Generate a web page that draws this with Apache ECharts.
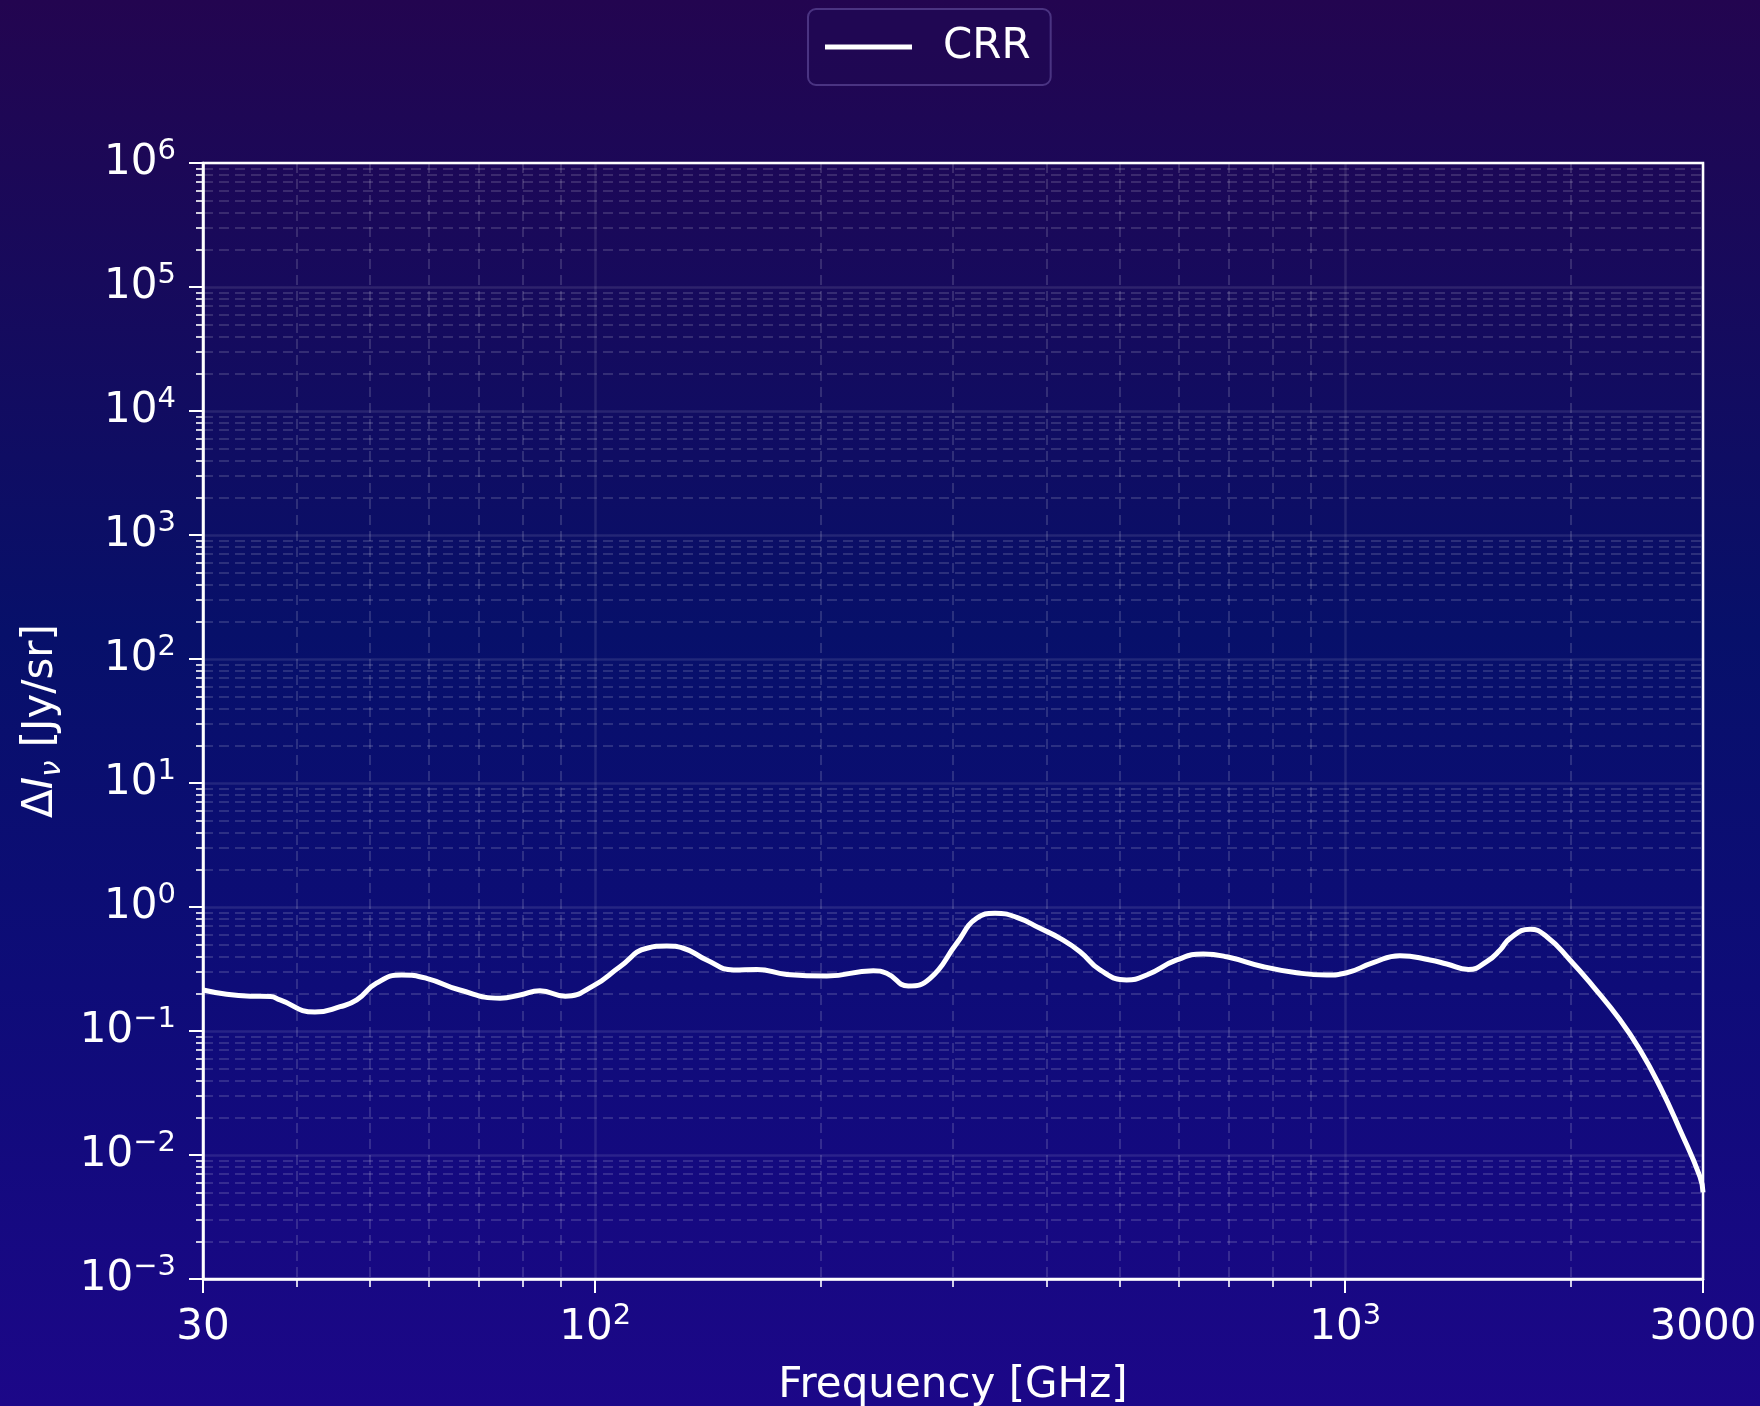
<!DOCTYPE html>
<html>
<head>
<meta charset="utf-8">
<script src="https://cdn.jsdelivr.net/npm/echarts@6/dist/echarts.min.js"></script>
<style>
  html, body { margin: 0; padding: 0; background: #0b0d6a; }
  #chart { width: 1760px; height: 1406px; }
</style>
</head>
<body>
<div id="chart"></div>
<script>
// CRR spectrum: frequency (GHz) and intensity difference ΔI_ν (Jy/sr)
const frequencyGHz = [
  30, 34.7, 36.9, 38.0, 42.3, 45.7, 48.1, 51.1, 55.2, 59.6,
  66.0, 74.7, 79.4, 84.4, 91.2, 99.4, 107.9, 117.2, 124.6, 131.1,
  140.8, 152.9, 164.2, 180.1, 203.6, 234.9, 244.7, 261.5, 279.6, 303.4,
  322.6, 341.4, 364.8, 391.9, 416.7, 443.1, 471.1, 511.3, 543.7, 596.3,
  646.9, 695.1, 778.0, 861.7, 944.9, 1004.7, 1090, 1183, 1298, 1366,
  1460, 1544, 1609, 1659, 1764, 1857, 1994, 2142, 2325, 2473,
  2629, 2796, 2972, 3000
];
const crrIntensity = [
  0.214, 0.191, 0.190, 0.178, 0.142, 0.157, 0.178, 0.243, 0.283, 0.266,
  0.214, 0.184, 0.195, 0.211, 0.191, 0.231, 0.330, 0.465, 0.484, 0.465,
  0.374, 0.311, 0.314, 0.286, 0.278, 0.306, 0.292, 0.231, 0.266, 0.509,
  0.811, 0.889, 0.826, 0.673, 0.559, 0.436, 0.311, 0.258, 0.283, 0.374,
  0.418, 0.397, 0.330, 0.295, 0.283, 0.295, 0.356, 0.405, 0.374, 0.347,
  0.314, 0.362, 0.450, 0.559, 0.661, 0.576, 0.374, 0.228, 0.123, 0.0703,
  0.0356, 0.0159, 0.00668, 0.0050
];

// Labelled tick values
const xTickValues = [30, 100, 1000, 3000];
const yTickValues = [1e-3, 1e-2, 1e-1, 1, 10, 100, 1e3, 1e4, 1e5, 1e6];

// Minor ticks: 2..9 times each power of ten inside the axis ranges
function minorValues(lo, hi) {
  const out = [];
  for (let e = Math.floor(Math.log10(lo)); e <= Math.ceil(Math.log10(hi)); e++) {
    for (let k = 2; k <= 9; k++) {
      const v = k * Math.pow(10, e);
      if (v > lo * 1.0001 && v < hi * 0.9999) out.push(v);
    }
  }
  return out;
}
const xMinorValues = minorValues(30, 3000);
const yMinorValues = minorValues(1e-3, 1e6);

const FONT = 'DejaVu Sans';

// "10^n" labels for powers of ten, plain numbers otherwise
function powerLabel(v) {
  const e = Math.round(Math.log10(v));
  if (Math.abs(Math.log10(v) - e) < 1e-9) {
    const ex = e < 0 ? '\u2212' + (-e) : String(e);
    return '{b|10}{s|' + ex + '}';
  }
  return '{b|' + v + '}';
}
const tickRich = {
  b: { color: '#ffffff', fontFamily: FONT, fontSize: 42, lineHeight: 52 },
  s: { color: '#ffffff', fontFamily: FONT, fontSize: 29, lineHeight: 28, verticalAlign: 'top' }
};

const majorGrid = { show: true, lineStyle: { color: 'rgba(255,255,255,0.10)', width: 2.5, type: 'solid' } };
const minorGrid = { show: true, lineStyle: { color: 'rgba(255,255,255,0.14)', width: 2, type: [10, 6] } };

const chart = echarts.init(document.getElementById('chart'), null, { renderer: 'canvas' });

chart.setOption({
  animation: false,
  backgroundColor: {
    type: 'linear', x: 0, y: 0, x2: 0, y2: 1,
    colorStops: [
      { offset: 0, color: '#230550' },
      { offset: 0.2, color: '#170a5c' },
      { offset: 0.45, color: '#07106a' },
      { offset: 0.7, color: '#0e0c78' },
      { offset: 1, color: '#1c0788' }
    ]
  },
  legend: {
    left: 808,
    top: 9,
    data: ['CRR'],
    icon: 'rect',
    itemWidth: 87,
    itemHeight: 5,
    padding: [17, 20, 17, 17],
    backgroundColor: 'rgba(32,8,84,0.85)',
    borderColor: 'rgba(110,90,170,0.55)',
    borderWidth: 2,
    borderRadius: 8,
    textStyle: { color: '#ffffff', fontFamily: FONT, fontSize: 42, padding: [0, 0, 0, 26] }
  },
  grid: {
    left: 203, right: 57, top: 163, bottom: 127,
    containLabel: false,
    outerBoundsMode: 'none',
    show: true,
    borderColor: '#ffffff',
    borderWidth: 2.5,
    backgroundColor: 'transparent'
  },
  xAxis: [
    {
      type: 'log', logBase: 10, min: 30, max: 3000, position: 'bottom',
      axisLine: { show: true, lineStyle: { color: '#ffffff', width: 2.5 } },
      axisTick: { show: true, inside: false, length: 14, lineStyle: { color: '#ffffff', width: 2 }, customValues: xTickValues },
      axisLabel: { show: true, customValues: xTickValues, formatter: powerLabel, rich: tickRich, margin: 23 },
      splitLine: majorGrid,
      minorTick: { show: false },
      name: 'Frequency [GHz]',
      nameLocation: 'middle',
      nameGap: 86,
      nameTextStyle: { color: '#ffffff', fontFamily: FONT, fontSize: 42 }
    },
    {
      type: 'log', logBase: 10, min: 30, max: 3000, position: 'bottom',
      axisLine: { show: false },
      axisTick: { show: true, inside: false, length: 8, lineStyle: { color: '#ffffff', width: 1.6 }, customValues: xMinorValues },
      axisLabel: { show: false },
      splitLine: minorGrid
    }
  ],
  yAxis: [
    {
      type: 'log', logBase: 10, min: 1e-3, max: 1e6, position: 'left',
      axisLine: { show: true, lineStyle: { color: '#ffffff', width: 2.5 } },
      axisTick: { show: true, inside: false, length: 14, lineStyle: { color: '#ffffff', width: 2 }, customValues: yTickValues },
      axisLabel: { show: true, customValues: yTickValues, formatter: powerLabel, rich: tickRich, margin: 27 },
      splitLine: majorGrid,
      minorTick: { show: false },
      name: '{n|\u0394}{i|I}{sub|\u03bd}{n| [Jy/sr]}',
      nameLocation: 'middle',
      nameRotate: 90,
      nameGap: 136,
      nameTextStyle: {
        color: '#ffffff',
        rich: {
          n: { color: '#ffffff', fontFamily: FONT, fontSize: 42, lineHeight: 52 },
          i: { color: '#ffffff', fontFamily: FONT, fontSize: 42, lineHeight: 52, fontStyle: 'italic' },
          sub: { color: '#ffffff', fontFamily: FONT, fontSize: 29, lineHeight: 22, fontStyle: 'italic', verticalAlign: 'bottom' }
        }
      }
    },
    {
      type: 'log', logBase: 10, min: 1e-3, max: 1e6, position: 'left',
      axisLine: { show: false },
      axisTick: { show: true, inside: false, length: 7, lineStyle: { color: '#ffffff', width: 1.6 }, customValues: yMinorValues },
      axisLabel: { show: false },
      splitLine: minorGrid
    }
  ],
  series: [
    {
      name: 'CRR',
      type: 'line',
      xAxisIndex: 0,
      yAxisIndex: 0,
      data: frequencyGHz.map((f, i) => [f, crrIntensity[i]]),
      symbol: 'none',
      showSymbol: false,
      smooth: 0.5,
      color: '#ffffff',
      itemStyle: { color: '#ffffff' },
      lineStyle: { color: '#ffffff', width: 5 },
      z: 10
    }
  ]
});
</script>
</body>
</html>
